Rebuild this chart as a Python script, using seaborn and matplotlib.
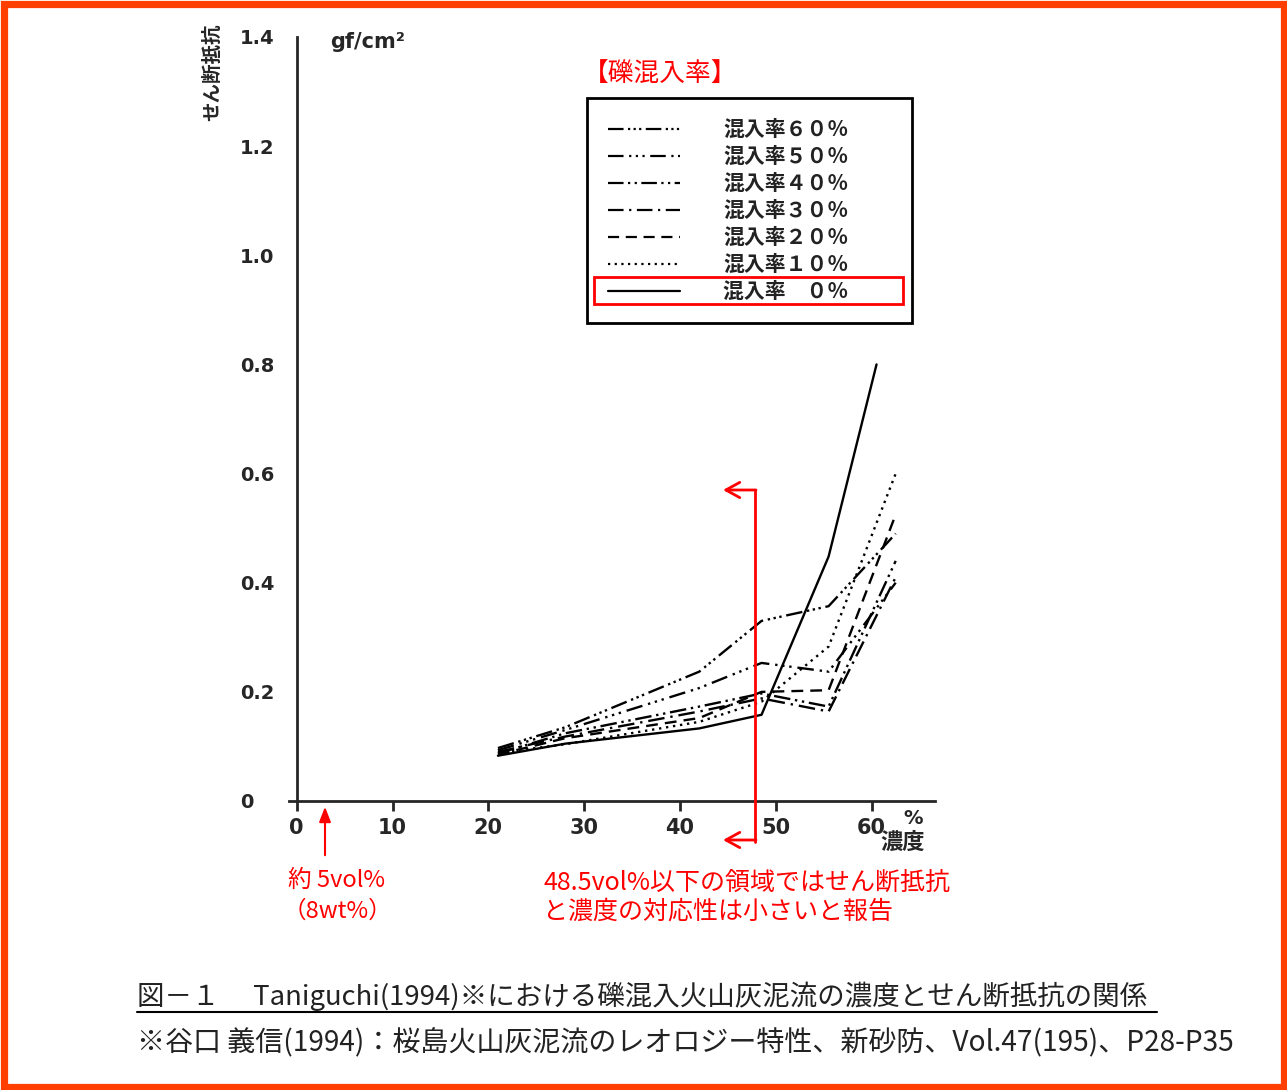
import numpy as np
import pandas as pd
import matplotlib
matplotlib.use('Agg')
import matplotlib.pyplot as plt
from matplotlib.lines import Line2D
from matplotlib.patches import Rectangle
import seaborn as sns

# 濃度 (%) と せん断抵抗 (gf/cm2) -- 図から読み取り
conc = [21, 28, 42, 48.5, 55.5, 62.5]
conc_0 = [21, 28, 42, 48.5, 55.5, 60.5]

shear_60 = [0.097, 0.135, 0.237, 0.330, 0.357, 0.490]
shear_50 = [0.093, 0.130, 0.207, 0.253, 0.237, 0.400]
shear_40 = [0.087, 0.124, 0.173, 0.197, 0.173, 0.440]
shear_30 = [0.090, 0.118, 0.164, 0.188, 0.164, 0.410]
shear_20 = [0.085, 0.115, 0.152, 0.200, 0.203, 0.525]
shear_10 = [0.088, 0.104, 0.145, 0.182, 0.283, 0.600]
shear_0 = [0.083, 0.105, 0.133, 0.158, 0.448, 0.800]

labels = ['混入率６０％', '混入率５０％', '混入率４０％', '混入率３０％',
          '混入率２０％', '混入率１０％', '混入率　０％']
xticks = [0, 10, 20, 30, 40, 50, 60]
yticks = [0, 0.2, 0.4, 0.6, 0.8, 1.0, 1.2, 1.4]
ytick_labels = ['0', '0.2', '0.4', '0.6', '0.8', '1.0', '1.2', '1.4']

# 線種
dash_map = {
    labels[0]: (7, 2, 1, 1.5, 1, 1.5, 1, 2),
    labels[1]: (7, 2.5, 1, 2, 1, 2, 1, 2.5),
    labels[2]: (7, 2, 1, 2, 1, 2),
    labels[3]: (7, 2.5, 1, 2.5),
    labels[4]: (5, 3),
    labels[5]: (1, 2),
    labels[6]: '',
}

series = [shear_60, shear_50, shear_40, shear_30, shear_20, shear_10, shear_0]
rows = []
for lab, ys in zip(labels, series):
    xs = conc_0 if lab == labels[6] else conc
    for x, y in zip(xs, ys):
        rows.append({'濃度': x, 'せん断抵抗': y, '混入率': lab})
df = pd.DataFrame(rows)

sns.set_style('ticks')
plt.rcParams['font.family'] = ['DejaVu Sans', 'Noto Sans CJK JP']

W, H = 1287, 1090
fig = plt.figure(figsize=(W / 100, H / 100), dpi=100)


def fx(px):
    return px / W


def fy(py):
    return 1 - py / H


ax = fig.add_axes([fx(289), fy(801), fx(935) - fx(289), fy(37) - fy(801)])

sns.lineplot(data=df, x='濃度', y='せん断抵抗', style='混入率', style_order=labels,
             dashes=dash_map, color='black', lw=1.7, legend=False, sort=False,
             estimator=None, ax=ax)

ax.set_xlim(-0.8, 66.6)
ax.set_ylim(0, 1.4)
ax.set_xlabel('')
ax.set_ylabel('')
sns.despine(ax=ax)
ax.spines['left'].set_position(('data', 0))
ax.spines['left'].set_linewidth(2)
ax.spines['bottom'].set_linewidth(2)

ax.set_xticks(xticks)
ax.set_xticklabels([str(t) for t in xticks], fontsize=15, fontweight='bold')
ax.tick_params(axis='x', length=7, width=2, pad=5)
ax.set_yticks(yticks)
ax.set_yticklabels(ytick_labels, fontsize=14, fontweight='bold')
ax.tick_params(axis='y', length=0, pad=41)
for t in ax.get_yticklabels():
    t.set_ha('left')
ax.set_yticks([1.4], minor=True)
ax.tick_params(axis='y', which='minor', length=8, width=2)

# 凡例
handles = [Line2D([], [], color='black', lw=1.6, dashes=dash_map[l]) if dash_map[l] else
           Line2D([], [], color='black', lw=1.6) for l in labels]
leg = ax.legend(handles, labels, loc='upper left',
                bbox_to_anchor=(fx(587), fy(325), fx(912) - fx(587), fy(98) - fy(325)),
                bbox_transform=fig.transFigure, mode='expand', borderaxespad=0,
                prop={'family': 'Noto Sans CJK JP', 'size': 15, 'weight': 'bold'},
                handlelength=3.45, handletextpad=2.1, labelspacing=0.29,
                borderpad=1.0, frameon=True, fancybox=False, edgecolor='black',
                framealpha=1)
leg.get_frame().set_linewidth(2)
for txt in leg.get_texts():
    txt.set_color('#222222')

red = '#FF0000'
fig.text(fx(583), fy(75), '【礫混入率】', color=red, fontsize=18.5,
         family='Noto Sans CJK JP', va='center', ha='left')
fig.patches.append(Rectangle((fx(594), fy(304)), fx(903) - fx(594), fy(277) - fy(304),
                             transform=fig.transFigure, fill=False, edgecolor=red, lw=2))

# 軸ラベル
fig.text(fx(213), fy(72), 'せん断抵抗', rotation=90, fontsize=14, fontweight='bold',
         family='Noto Sans CJK JP', ha='center', va='center')
fig.text(fx(330), fy(42), 'gf/cm²', fontsize=15, fontweight='bold', ha='left', va='center')
fig.text(fx(913), fy(818), '%', fontsize=14, fontweight='bold', ha='center', va='center')
fig.text(fx(903), fy(842), '濃度', fontsize=16, fontweight='bold', family='Noto Sans CJK JP',
         ha='center', va='center')

# 赤い注記
ax.annotate('', xy=(fx(325), fy(804)), xytext=(fx(325), fy(858)),
            xycoords='figure fraction', textcoords='figure fraction',
            arrowprops=dict(arrowstyle='-|>,head_length=0.9,head_width=0.35',
                            color=red, lw=1.5))
fig.text(fx(337), fy(880), '約 5vol%', color=red, fontsize=17,
         family='Noto Sans CJK JP', ha='center', va='center')
fig.text(fx(337), fy(911), '（8wt%）', color=red, fontsize=17,
         family='Noto Sans CJK JP', ha='center', va='center')

fig.lines.append(Line2D([fx(755), fx(755)], [fy(490), fy(842)],
                        transform=fig.transFigure, color=red, lw=2))
for yy in (490, 840):
    ax.annotate('', xy=(fx(723), fy(yy)), xytext=(fx(756), fy(yy)),
                xycoords='figure fraction', textcoords='figure fraction',
                arrowprops=dict(arrowstyle='->,head_length=1.0,head_width=0.55',
                                color=red, lw=2, shrinkA=0, shrinkB=0))
fig.text(fx(543), fy(883), '48.5vol%以下の領域ではせん断抵抗', color=red, fontsize=18,
         family='Noto Sans CJK JP', ha='left', va='center')
fig.text(fx(543), fy(912), 'と濃度の対応性は小さいと報告', color=red, fontsize=18,
         family='Noto Sans CJK JP', ha='left', va='center')

# キャプション
fig.text(fx(137), fy(996), '図－１　 Taniguchi(1994)※における礫混入火山灰泥流の濃度とせん断抵抗の関係',
         fontsize=19.8, family='Noto Sans CJK JP', color='#222222', ha='left', va='center')
fig.lines.append(Line2D([fx(137), fx(1157)], [fy(1012), fy(1012)],
                        transform=fig.transFigure, color='black', lw=1.5))
fig.text(fx(137), fy(1043), '※谷口 義信(1994)：桜島火山灰泥流のレオロジー特性、新砂防、Vol.47(195)、P28-P35',
         fontsize=20.2, family='Noto Sans CJK JP', color='#222222', ha='left', va='center')

# 外枠
fig.patches.append(Rectangle((fx(3.5), fy(H - 3.5)), fx(W - 7), fy(0) - fy(H - 7),
                             transform=fig.transFigure, fill=False,
                             edgecolor='#FF3F00', lw=5.2))

fig.savefig('out.png', dpi=100)
